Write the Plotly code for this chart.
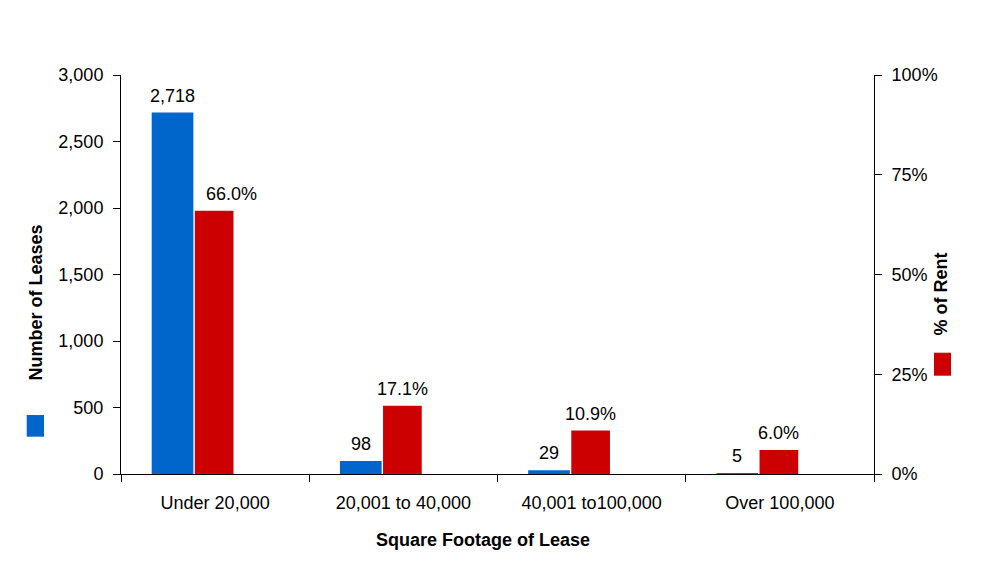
import plotly.graph_objects as go

categories = ["Under 20,000", "20,001 to 40,000", "40,001 to100,000", "Over 100,000"]
num_leases = [2718, 98, 29, 5]
pct_rent = [0.660, 0.171, 0.109, 0.060]
lease_labels = ["2,718", "98", "29", "5"]
rent_labels = ["66.0%", "17.1%", "10.9%", "6.0%"]
left_ticks = [0, 500, 1000, 1500, 2000, 2500, 3000]
right_ticks = [0, 0.25, 0.5, 0.75, 1.0]

BLUE = "#0066CC"
RED = "#CC0000"
FONT = "Liberation Sans, Arial, sans-serif"
FS = 18

# page body has an 8px margin; compensate so the plot lands where the reference has it
OFF = 8
W, H = 989 - OFF, 587 - OFF
PL, PR, PT, PB = 121, 874, 75, 474  # plot area in window pixels
ML, MT = PL - OFF, PT - OFF
MR = (OFF + W) - PR
MB = (OFF + H) - PB
PW = PR - PL
PH = PB - PT

blue_off, blue_w = -0.337, 0.2215
red_off, red_w = -0.108, 0.2055

x_idx = list(range(len(categories)))

fig = go.Figure()
fig.add_trace(go.Bar(
    x=x_idx, y=num_leases, name="Number of Leases",
    marker=dict(color=BLUE, line=dict(width=0)),
    offset=blue_off, width=blue_w, yaxis="y", hoverinfo="skip"))
fig.add_trace(go.Bar(
    x=x_idx, y=pct_rent, name="% of Rent",
    marker=dict(color=RED, line=dict(width=0)),
    offset=red_off, width=red_w, yaxis="y2", hoverinfo="skip"))

annotations = []
for i, (v, t) in enumerate(zip(num_leases, lease_labels)):
    annotations.append(dict(x=i + blue_off + blue_w / 2, y=v, xref="x", yref="y",
                            text=t, showarrow=False, xanchor="center", yanchor="middle",
                            yshift=17, font=dict(family=FONT, size=FS, color="black")))
for i, (v, t) in enumerate(zip(pct_rent, rent_labels)):
    xs = 17 if i == 0 else 0
    annotations.append(dict(x=i + red_off + red_w / 2, y=v, xref="x", yref="y2",
                            text=t, showarrow=False, xanchor="center", yanchor="middle",
                            yshift=17, xshift=xs,
                            font=dict(family=FONT, size=FS, color="black")))

def px_x(p):
    return (p - PL) / PW

def px_y(p):
    return (PB - p) / PH

annotations += [
    dict(text="<b>Number of Leases</b>", xref="paper", yref="paper",
         x=px_x(35), y=px_y(302.5), textangle=-90, showarrow=False,
         xanchor="center", yanchor="middle",
         font=dict(family=FONT, size=FS, color="black")),
    dict(text="<b>% of Rent</b>", xref="paper", yref="paper",
         x=px_x(940), y=px_y(293.5), textangle=-90, showarrow=False,
         xanchor="center", yanchor="middle",
         font=dict(family=FONT, size=FS, color="black")),
    dict(text="<b>Square Footage of Lease</b>", xref="paper", yref="paper",
         x=px_x(482.5), y=px_y(540), showarrow=False,
         xanchor="center", yanchor="middle",
         font=dict(family=FONT, size=FS, color="black")),
]

shapes = [
    dict(type="rect", xref="paper", yref="paper",
         x0=px_x(26.7), x1=px_x(44), y0=px_y(436.7), y1=px_y(415),
         fillcolor=BLUE, line=dict(width=0)),
    dict(type="rect", xref="paper", yref="paper",
         x0=px_x(934), x1=px_x(951), y0=px_y(375.7), y1=px_y(352.7),
         fillcolor=RED, line=dict(width=0)),
]

fig.update_layout(
    width=W, height=H,
    margin=dict(l=ML, r=MR, t=MT, b=MB, pad=0),
    paper_bgcolor="white", plot_bgcolor="white",
    showlegend=False,
    font=dict(family=FONT, size=FS, color="black"),
    xaxis=dict(
        type="linear", range=[-0.5, len(categories) - 0.5],
        tickmode="array", tickvals=x_idx, ticktext=categories,
        ticks="", showline=True, linecolor="black", linewidth=1,
        showgrid=False, zeroline=False, ticklabelstandoff=12,
        tickfont=dict(family=FONT, size=FS, color="black")),
    yaxis=dict(
        range=[0, 3000], tickmode="array", tickvals=left_ticks,
        tickformat=",", ticks="outside", ticklen=7, tickcolor="black",
        showline=True, linecolor="black", linewidth=1,
        showgrid=False, zeroline=False, ticklabelstandoff=6,
        tickfont=dict(family=FONT, size=FS, color="black")),
    yaxis2=dict(
        range=[0, 1], overlaying="y", side="right", tickmode="array",
        tickvals=right_ticks, tickformat=".0%", ticks="outside", ticklen=7,
        tickcolor="black", showline=True, linecolor="black", linewidth=1,
        showgrid=False, zeroline=False, ticklabelstandoff=6,
        tickfont=dict(family=FONT, size=FS, color="black")),
    annotations=annotations,
    shapes=shapes,
)

# category boundary ticks on x axis (secondary overlaying x axis)
fig.update_layout(xaxis2=dict(
    overlaying="x", side="bottom", range=[-0.5, len(categories) - 0.5],
    tickmode="array", tickvals=[i - 0.5 for i in range(len(categories) + 1)],
    showticklabels=False, ticks="outside", ticklen=7, tickcolor="black",
    showline=False, showgrid=False, zeroline=False, anchor="y"))
fig.add_trace(go.Scatter(x=[None], y=[None], xaxis="x2", yaxis="y", showlegend=False,
                         hoverinfo="skip"))

fig.write_html("out.html")
